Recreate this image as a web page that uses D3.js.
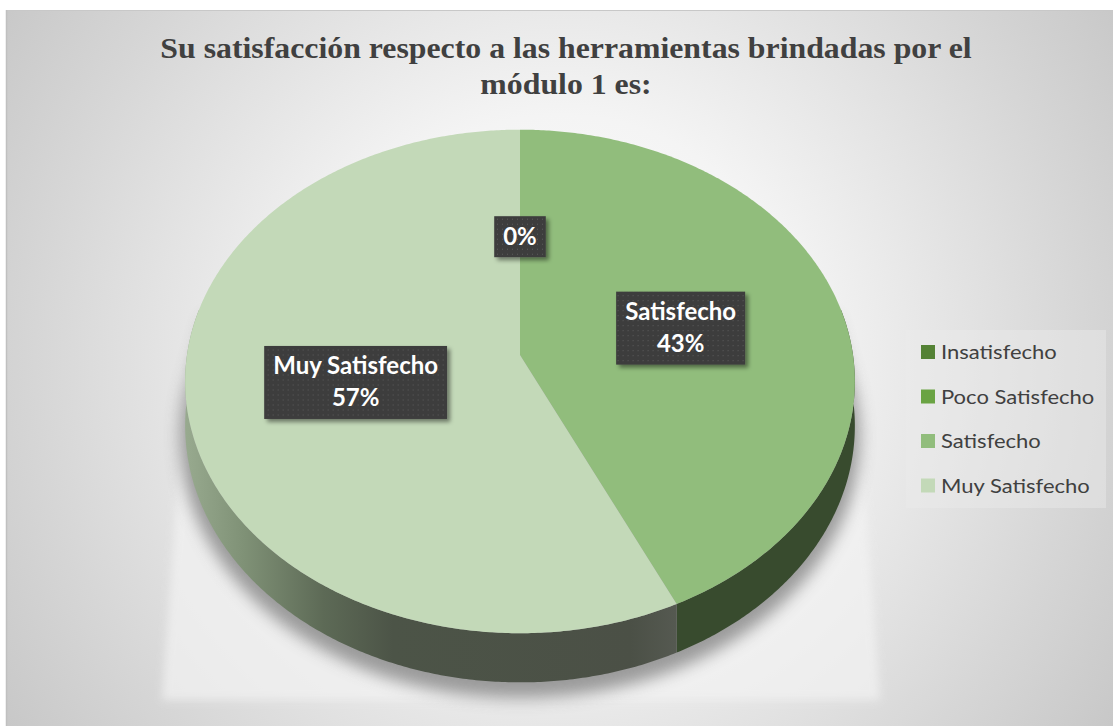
<!DOCTYPE html>
<html>
<head>
<meta charset="utf-8">
<script src="https://cdn.jsdelivr.net/npm/d3@7"></script>
<style>
  html, body { margin: 0; padding: 0; background: #ffffff; }
  svg { display: block; }
</style>
</head>
<body>
<script>
// ---- data ----
const categories = ["Insatisfecho", "Poco Satisfecho", "Satisfecho", "Muy Satisfecho"];
const percentValues = [0, 0, 43, 57];
const sliceColors = ["#548235", "#6aa343", "#91bd7c", "#c3d9b8"];
const sideColors = ["#2f4420", "#3b5a28", "#384b2e", "url(#sideMuy)"];
const labelModes = ["none", "value", "both", "both"];
const titleLines = ["Su satisfacción respecto a las herramientas brindadas por el", "módulo 1 es:"];

// ---- layout ----
const W = 1113, H = 726;
const svg = d3.select("body").append("svg").attr("width", W).attr("height", H);
const defs = svg.append("defs");

// chart background: soft radial gradient
const bg = defs.append("radialGradient").attr("id", "bgGrad")
  .attr("gradientUnits", "userSpaceOnUse").attr("cx", 560).attr("cy", 360).attr("r", 700);
bg.append("stop").attr("offset", 0).attr("stop-color", "#ffffff");
bg.append("stop").attr("offset", 0.35).attr("stop-color", "#f4f4f4");
bg.append("stop").attr("offset", 0.75).attr("stop-color", "#d6d6d6");
bg.append("stop").attr("offset", 1).attr("stop-color", "#c4c4c4");

const blurS = defs.append("filter").attr("id", "softShadow")
  .attr("x", "-20%").attr("y", "-20%").attr("width", "140%").attr("height", "140%");
blurS.append("feGaussianBlur").attr("stdDeviation", 8);

const blurL = defs.append("filter").attr("id", "softLight")
  .attr("x", "-20%").attr("y", "-20%").attr("width", "140%").attr("height", "140%");
blurL.append("feGaussianBlur").attr("stdDeviation", 4);

const boxShadow = defs.append("filter").attr("id", "boxShadow")
  .attr("x", "-20%").attr("y", "-20%").attr("width", "150%").attr("height", "150%");
boxShadow.append("feDropShadow").attr("dx", 3).attr("dy", 3).attr("stdDeviation", 2)
  .attr("flood-color", "#000").attr("flood-opacity", 0.45);

// dotted texture for the label boxes
const dots = defs.append("pattern").attr("id", "dots").attr("patternUnits", "userSpaceOnUse")
  .attr("width", 5).attr("height", 5);
dots.append("rect").attr("width", 5).attr("height", 5).attr("fill", "#3d3d3d");
dots.append("rect").attr("x", 2).attr("y", 2).attr("width", 1).attr("height", 1).attr("fill", "#5a5a5a");

// side wall gradient for the large slice
const sideGrad = defs.append("linearGradient").attr("id", "sideMuy")
  .attr("gradientUnits", "userSpaceOnUse").attr("x1", 185).attr("x2", 680).attr("y1", 0).attr("y2", 0);
[[0, "#98aa8f"], [0.12, "#7f9176"], [0.28, "#5d6a56"], [0.42, "#4c5447"], [0.9, "#4b5046"], [1, "#565a52"]]
  .forEach(([o, c]) => sideGrad.append("stop").attr("offset", o).attr("stop-color", c));

svg.append("rect").attr("x", 6).attr("y", 10).attr("width", W - 6).attr("height", H - 10)
  .attr("fill", "url(#bgGrad)");
svg.append("line").attr("x1", 6).attr("x2", W).attr("y1", 10.5).attr("y2", 10.5)
  .attr("stroke", "#c8c8c8").attr("stroke-width", 1);
svg.append("line").attr("x1", 6.5).attr("x2", 6.5).attr("y1", 10).attr("y2", H)
  .attr("stroke", "#c0c0c0").attr("stroke-width", 1.5);

// ---- title ----
const title = svg.append("g").attr("transform", "translate(566,0) scale(1.06,1)");
title.selectAll("text").data(titleLines).join("text")
  .attr("x", 0).attr("y", (d, i) => 58 + i * 36)
  .attr("text-anchor", "middle")
  .attr("font-family", "'Liberation Serif', 'Times New Roman', serif")
  .attr("font-weight", "bold").attr("font-size", 30).attr("fill", "#404040")
  .text(d => d);

// ---- 3D pie projection ----
const cx = 520, cy = 355, A = 333, B = 249, K = 0.105, depth = 44;
function proj(theta, r, drop) {
  const u = r * Math.sin(theta), w = -r * Math.cos(theta);
  const d = 1 - K * w;
  return [cx + A * u / d, cy + (B * w + drop) / d];
}
function arcPts(a0, a1, r, drop) {
  const n = Math.max(2, Math.ceil(Math.abs(a1 - a0) / (Math.PI / 360)));
  return d3.range(n + 1).map(i => proj(a0 + (a1 - a0) * i / n, r, drop));
}
const line = d3.line();

const pie = d3.pie().sort(null).value(d => d.value);
const arcs = pie(categories.map((c, i) => ({
  name: c, value: percentValues[i], color: sliceColors[i], side: sideColors[i], mode: labelModes[i]
})));

// light floor patch below the pie
svg.append("path")
  .attr("d", line([[186, 372], [162, 700], [880, 700], [856, 372]]) + "Z")
  .attr("fill", "#f3f3f3").attr("opacity", 0.7).attr("filter", "url(#softLight)");

// soft shadow hugging the lower rim
const shadowPts = arcPts(Math.PI * 0.45, Math.PI * 1.55, 1.015, depth + 10);
svg.append("path")
  .attr("d", line([proj(Math.PI * 0.45, 0.97, 0), ...shadowPts, proj(Math.PI * 1.55, 0.97, 0)]) + "Z")
  .attr("fill", "#7e7e7e").attr("opacity", 0.75).attr("filter", "url(#softShadow)");

// side walls (front half only)
const visA = Math.PI * 0.44, visB = Math.PI * 1.56;
const sides = svg.append("g");
arcs.forEach(a => {
  const s = Math.max(a.startAngle, visA), e = Math.min(a.endAngle, visB);
  if (e <= s) return;
  const top = arcPts(s, e, 1, 0), bot = arcPts(e, s, 1, depth);
  sides.append("path").attr("d", line(top.concat(bot)) + "Z").attr("fill", a.data.side);
});

// top faces
svg.append("g").selectAll("path").data(arcs.filter(a => a.endAngle > a.startAngle)).join("path")
  .attr("d", a => line([[cx, cy], ...arcPts(a.startAngle, a.endAngle, 1, 0)]) + "Z")
  .attr("fill", a => a.data.color);

// ---- data labels ----
const fmt = v => d3.format(".0f")(v) + "%";
const labels = svg.append("g");
arcs.forEach(a => {
  if (a.data.mode === "none") return;
  const mid = (a.startAngle + a.endAngle) / 2;
  const [lx, ly] = proj(mid, 0.5, 0);
  const lines = a.data.mode === "both" ? [a.data.name, fmt(a.data.value)] : [fmt(a.data.value)];
  const g = labels.append("g").attr("transform", `translate(${lx},${ly})`);
  const rect = g.append("rect");
  const lh = 32;
  const texts = g.selectAll("text").data(lines).join("text")
    .attr("x", 0).attr("y", (d, i) => (i - (lines.length - 1) / 2) * lh + 8)
    .attr("text-anchor", "middle")
    .attr("font-family", "Lato, 'Open Sans', sans-serif").attr("font-weight", "bold")
    .attr("font-size", 24).attr("fill", "#ffffff")
    .text(d => d);
  let wmax = 0;
  texts.each(function () { wmax = Math.max(wmax, this.getComputedTextLength()); });
  const bw = wmax + 18, bh = lines.length * lh + 9;
  rect.attr("x", -bw / 2).attr("y", -bh / 2).attr("width", bw).attr("height", bh)
    .attr("fill", "url(#dots)").attr("filter", "url(#boxShadow)");
});

// ---- legend ----
const legend = svg.append("g").attr("transform", "translate(906,330)");
legend.append("rect").attr("x", 0).attr("y", 0).attr("width", 200).attr("height", 178)
  .attr("fill", "#ececec").attr("opacity", 0.45);
const items = legend.selectAll("g").data(categories).join("g")
  .attr("transform", (d, i) => `translate(15,${22 + i * 44.5})`);
items.append("rect").attr("x", 0).attr("y", -7).attr("width", 14).attr("height", 14)
  .attr("fill", (d, i) => sliceColors[i]);
items.append("text").attr("transform", "translate(20,7) scale(1.1,1)")
  .attr("font-family", "Lato, 'Open Sans', sans-serif").attr("font-size", 20).attr("fill", "#404040")
  .text(d => d);
</script>
</body>
</html>
